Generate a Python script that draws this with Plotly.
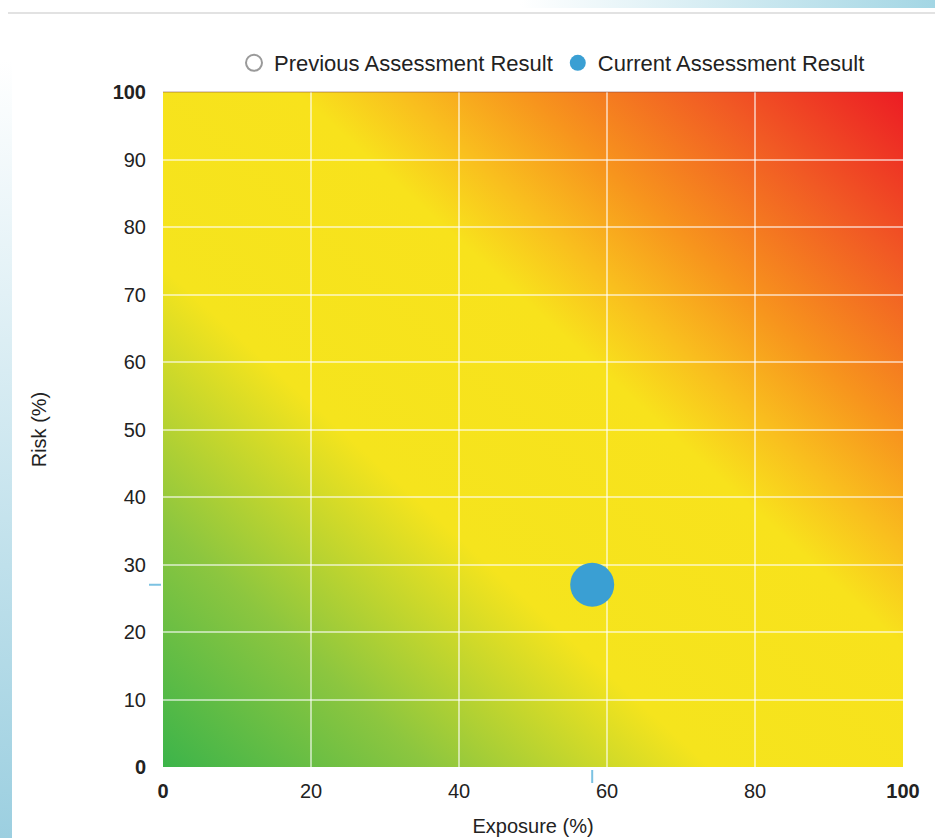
import base64
import plotly.graph_objects as go

# ---- data ----
tick_vals = [0, 20, 40, 60, 80, 100]
x_tick_text = ["<b>0</b>", "20", "40", "60", "80", "<b>100</b>"]
y_tick_vals = [0, 10, 20, 30, 40, 50, 60, 70, 80, 90, 100]
y_tick_text = ["<b>0</b>", "10", "20", "30", "40", "50", "60", "70", "80", "90", "<b>100</b>"]
previous_exposure = []
previous_risk = []
current_exposure = [58]
current_risk = [27]

# ---- decorative gradients as SVG ----
def svg_uri(svg):
    return "data:image/svg+xml;base64," + base64.b64encode(svg.encode()).decode()

bg_svg = """<svg xmlns='http://www.w3.org/2000/svg' width='200' height='200' viewBox='0 0 200 200' preserveAspectRatio='none'>
<defs><linearGradient id='g' x1='0' y1='1' x2='1' y2='0'>
<stop offset='0' stop-color='#3cb44a'/>
<stop offset='0.18' stop-color='#8cc63f'/>
<stop offset='0.37' stop-color='#f5e41d'/>
<stop offset='0.59' stop-color='#f8e21c'/>
<stop offset='0.66' stop-color='#f9bf1e'/>
<stop offset='0.745' stop-color='#f7941d'/>
<stop offset='0.87' stop-color='#f15a24'/>
<stop offset='1' stop-color='#ec1c24'/>
</linearGradient></defs>
<rect width='200' height='200' fill='url(#g)'/></svg>"""

left_svg = """<svg xmlns='http://www.w3.org/2000/svg' width='10' height='100' viewBox='0 0 10 100' preserveAspectRatio='none'>
<defs><linearGradient id='g' x1='0' y1='0' x2='0' y2='1'>
<stop offset='0' stop-color='#ffffff'/>
<stop offset='0.3' stop-color='#e2f1f6'/>
<stop offset='1' stop-color='#9ccfe0'/>
</linearGradient></defs>
<rect width='10' height='100' fill='url(#g)'/></svg>"""

top_svg = """<svg xmlns='http://www.w3.org/2000/svg' width='100' height='10' viewBox='0 0 100 10' preserveAspectRatio='none'>
<defs><linearGradient id='g' x1='0' y1='0' x2='1' y2='0'>
<stop offset='0' stop-color='#ffffff'/>
<stop offset='0.3' stop-color='#e4f3f7'/>
<stop offset='1' stop-color='#a3d6e4'/>
</linearGradient></defs>
<rect width='100' height='10' fill='url(#g)'/></svg>"""

W, H = 935, 838
L, R, T, B = 163, 32, 92, 71
pw, ph = W - L - R, H - T - B

def px_x(p):  # pixel -> paper x
    return (p - L) / pw

def px_y(p):  # pixel -> paper y
    return (H - B - p) / ph

fig = go.Figure()

fig.add_trace(go.Scatter(
    x=previous_exposure or [None], y=previous_risk or [None], mode="markers",
    name="Previous Assessment Result",
    marker=dict(symbol="circle-open", color="#9a9a9a", size=16, line=dict(width=2)),
))
fig.add_trace(go.Scatter(
    x=current_exposure, y=current_risk, mode="markers",
    name="Current Assessment Result",
    marker=dict(symbol="circle", color="#3a9fd3", size=44),
))

images = [
    dict(source=svg_uri(bg_svg), xref="x", yref="y", x=0, y=100, sizex=100, sizey=100,
         sizing="stretch", layer="below", xanchor="left", yanchor="top"),
    dict(source=svg_uri(left_svg), xref="paper", yref="paper", x=px_x(0), y=px_y(60),
         sizex=12 / pw, sizey=(H - 60) / ph, sizing="stretch", layer="above",
         xanchor="left", yanchor="top"),
    dict(source=svg_uri(top_svg), xref="paper", yref="paper", x=px_x(520), y=px_y(0),
         sizex=(W - 520) / pw, sizey=8 / ph, sizing="stretch", layer="above",
         xanchor="left", yanchor="top"),
]

shapes = [
    dict(type="line", xref="paper", yref="paper", x0=px_x(8), x1=px_x(W), y0=px_y(13), y1=px_y(13),
         line=dict(color="#e2e2e2", width=2)),
    dict(type="line", xref="x", yref="paper", x0=current_exposure[0], x1=current_exposure[0],
         y0=px_y(770), y1=px_y(783), line=dict(color="#7cc2e2", width=2)),
    dict(type="line", xref="paper", yref="y", x0=px_x(149), x1=px_x(161),
         y0=current_risk[0], y1=current_risk[0], line=dict(color="#7cc2e2", width=2)),
    dict(type="line", xref="paper", yref="paper", x0=0, x1=1, y0=1, y1=1,
         line=dict(color="rgba(120,60,60,0.5)", width=1)),
]

fig.update_layout(
    width=W, height=H,
    margin=dict(l=L, r=R, t=T, b=B, pad=0, autoexpand=False),
    paper_bgcolor="white", plot_bgcolor="white",
    font=dict(family="Liberation Sans, Arial, sans-serif", size=20, color="#222222"),
    images=images, shapes=shapes,
    showlegend=True,
    legend=dict(orientation="h", x=px_x(552), xanchor="center", y=px_y(84), yanchor="bottom",
                font=dict(size=22, color="#222222"), bgcolor="rgba(0,0,0,0)",
                itemwidth=30, tracegroupgap=0),
    xaxis=dict(range=[0, 100], tickvals=tick_vals, ticktext=x_tick_text, automargin=False,
               showgrid=True, gridcolor="rgba(255,255,255,0.55)", gridwidth=2,
               zeroline=False, showline=False, ticks="", ticklabelstandoff=10,
               title=dict(text="Exposure (%)", font=dict(size=20), standoff=17),
               fixedrange=True),
    yaxis=dict(range=[0, 100], tickvals=y_tick_vals, ticktext=y_tick_text, automargin=False,
               showgrid=True, gridcolor="rgba(255,255,255,0.55)", gridwidth=2,
               zeroline=False, showline=False, ticks="", ticklabelstandoff=16,
               title=dict(text="Risk (%)", font=dict(size=20), standoff=60),
               fixedrange=True),
)

fig.write_html("out.html", config={"displayModeBar": False},
               post_script="document.body.style.margin='0px';document.body.style.overflow='hidden';")
